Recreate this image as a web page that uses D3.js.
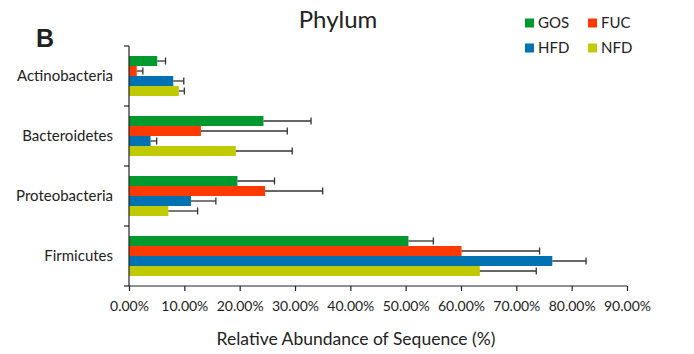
<!DOCTYPE html>
<html>
<head>
<meta charset="utf-8">
<script src="https://cdn.jsdelivr.net/npm/d3@7"></script>
<style>
  body { margin: 0; background: #fff; }
  text { font-family: Lato, "Open Sans", sans-serif; fill: #222; }
</style>
</head>
<body>
<svg width="694" height="354"></svg>
<script>
// phylum categories, top to bottom
var categories = ["Actinobacteria", "Bacteroidetes", "Proteobacteria", "Firmicutes"];
var groups = ["GOS", "FUC", "HFD", "NFD"];
var colors = ["#00992f", "#ff3a00", "#0071b1", "#bfcb00"];

// mean relative abundance (%) and error (%)
var gos = [5.1, 24.3, 19.6, 50.5];
var gosErr = [1.5, 8.6, 6.7, 4.5];
var fuc = [1.4, 13.0, 24.6, 60.1];
var fucErr = [1.1, 15.6, 10.4, 14.1];
var hfd = [8.0, 3.9, 11.2, 76.5];
var hfdErr = [1.9, 1.1, 4.5, 6.1];
var nfd = [9.0, 19.3, 7.1, 63.4];
var nfdErr = [1.0, 10.2, 5.3, 10.2];

var xTicks = [0, 10, 20, 30, 40, 50, 60, 70, 80, 90];

var means = [gos, fuc, hfd, nfd];
var errs = [gosErr, fucErr, hfdErr, nfdErr];

var rows = [];
categories.forEach(function (c, i) {
    groups.forEach(function (g, j) {
        rows.push({ cat: c, grp: g, value: means[j][i], err: errs[j][i], color: colors[j] });
    });
});

var svg = d3.select("svg");

var xScale = d3.scaleLinear()
    .domain([0, 90])
    .range([129, 627]);

var yScale = d3.scaleBand()
    .domain(categories)
    .range([46, 286])
    .paddingInner(1 / 3)
    .paddingOuter(1 / 6);

var innerScale = d3.scaleBand()
    .domain(groups)
    .range([0, yScale.bandwidth()]);

// bars
svg.append("g")
    .selectAll("rect")
    .data(rows)
    .enter()
    .append("rect")
    .attr("x", xScale(0))
    .attr("y", function (d) { return yScale(d.cat) + innerScale(d.grp) })
    .attr("width", function (d) { return xScale(d.value) - xScale(0) })
    .attr("height", innerScale.bandwidth())
    .attr("fill", function (d) { return d.color });

// error bars
var errG = svg.append("g")
    .attr("stroke", "#333")
    .attr("stroke-width", 1.3);

errG.selectAll("line.whisk")
    .data(rows)
    .enter()
    .append("line")
    .attr("class", "whisk")
    .attr("x1", function (d) { return xScale(d.value) })
    .attr("x2", function (d) { return xScale(d.value + d.err) })
    .attr("y1", function (d) { return yScale(d.cat) + innerScale(d.grp) + innerScale.bandwidth() / 2 })
    .attr("y2", function (d) { return yScale(d.cat) + innerScale(d.grp) + innerScale.bandwidth() / 2 });

errG.selectAll("line.cap")
    .data(rows)
    .enter()
    .append("line")
    .attr("class", "cap")
    .attr("x1", function (d) { return xScale(d.value + d.err) })
    .attr("x2", function (d) { return xScale(d.value + d.err) })
    .attr("y1", function (d) { return yScale(d.cat) + innerScale(d.grp) + innerScale.bandwidth() / 2 - 3.5 })
    .attr("y2", function (d) { return yScale(d.cat) + innerScale(d.grp) + innerScale.bandwidth() / 2 + 3.5 });

// x axis
var xAxis = d3.axisBottom(xScale)
    .tickValues(xTicks)
    .tickSize(5)
    .tickPadding(10)
    .tickFormat(function (d) { return d.toFixed(2) + "%" });

var xAxisG = svg.append("g")
    .attr("id", "xAxisG")
    .attr("transform", "translate(0,286)")
    .call(xAxis);

xAxisG.select(".domain").attr("d", "M" + xScale(0) + ",0H" + xScale(90)).attr("stroke", "#222").attr("stroke-width", 1.2);
xAxisG.selectAll(".tick line").attr("stroke", "#222").attr("stroke-width", 1.2);
xAxisG.selectAll(".tick text").style("font-size", "14px").attr("fill", "#222");

// y axis: ticks sit on the band edges
var edges = categories.map(function (c) { return yScale(c) - yScale.step() * yScale.paddingOuter() });
edges.push(286);

var yAxisG = svg.append("g").attr("id", "yAxisG");
yAxisG.append("line")
    .attr("x1", xScale(0)).attr("x2", xScale(0))
    .attr("y1", 46).attr("y2", 286)
    .attr("stroke", "#222").attr("stroke-width", 1.2);
yAxisG.selectAll("line.tick")
    .data(edges)
    .enter()
    .append("line")
    .attr("class", "tick")
    .attr("x1", xScale(0) - 5).attr("x2", xScale(0))
    .attr("y1", function (d) { return d }).attr("y2", function (d) { return d })
    .attr("stroke", "#222").attr("stroke-width", 1.2);
yAxisG.selectAll("text")
    .data(categories)
    .enter()
    .append("text")
    .attr("x", 113)
    .attr("y", function (d) { return yScale(d) + yScale.bandwidth() / 2 })
    .attr("dy", "0.35em")
    .attr("text-anchor", "end")
    .style("font-size", "15px")
    .text(function (d) { return d });

// titles
svg.append("text")
    .attr("x", 338).attr("y", 28)
    .attr("text-anchor", "middle")
    .style("font-size", "24px")
    .text("Phylum");

svg.append("text")
    .attr("x", 36).attr("y", 47)
    .style("font-family", "'Liberation Sans', Arial, sans-serif")
    .style("font-weight", "bold")
    .style("font-size", "25px")
    .attr("fill", "#000")
    .text("B");

svg.append("text")
    .attr("x", 356).attr("y", 345)
    .attr("text-anchor", "middle")
    .style("font-size", "17.5px")
    .text("Relative Abundance of Sequence (%)");

// legend, two columns
var legendPos = [[525, 23], [588, 23], [525, 48], [588, 48]];
var legend = svg.append("g")
    .selectAll("g")
    .data(groups)
    .enter()
    .append("g")
    .attr("transform", function (d, i) { return "translate(" + legendPos[i][0] + "," + legendPos[i][1] + ")" });
legend.append("rect")
    .attr("x", 0).attr("y", -4.5)
    .attr("width", 9).attr("height", 9)
    .attr("fill", function (d, i) { return colors[i] });
legend.append("text")
    .attr("x", 13).attr("y", 0)
    .attr("dy", "0.35em")
    .style("font-size", "15px")
    .text(function (d) { return d });
</script>
</body>
</html>
